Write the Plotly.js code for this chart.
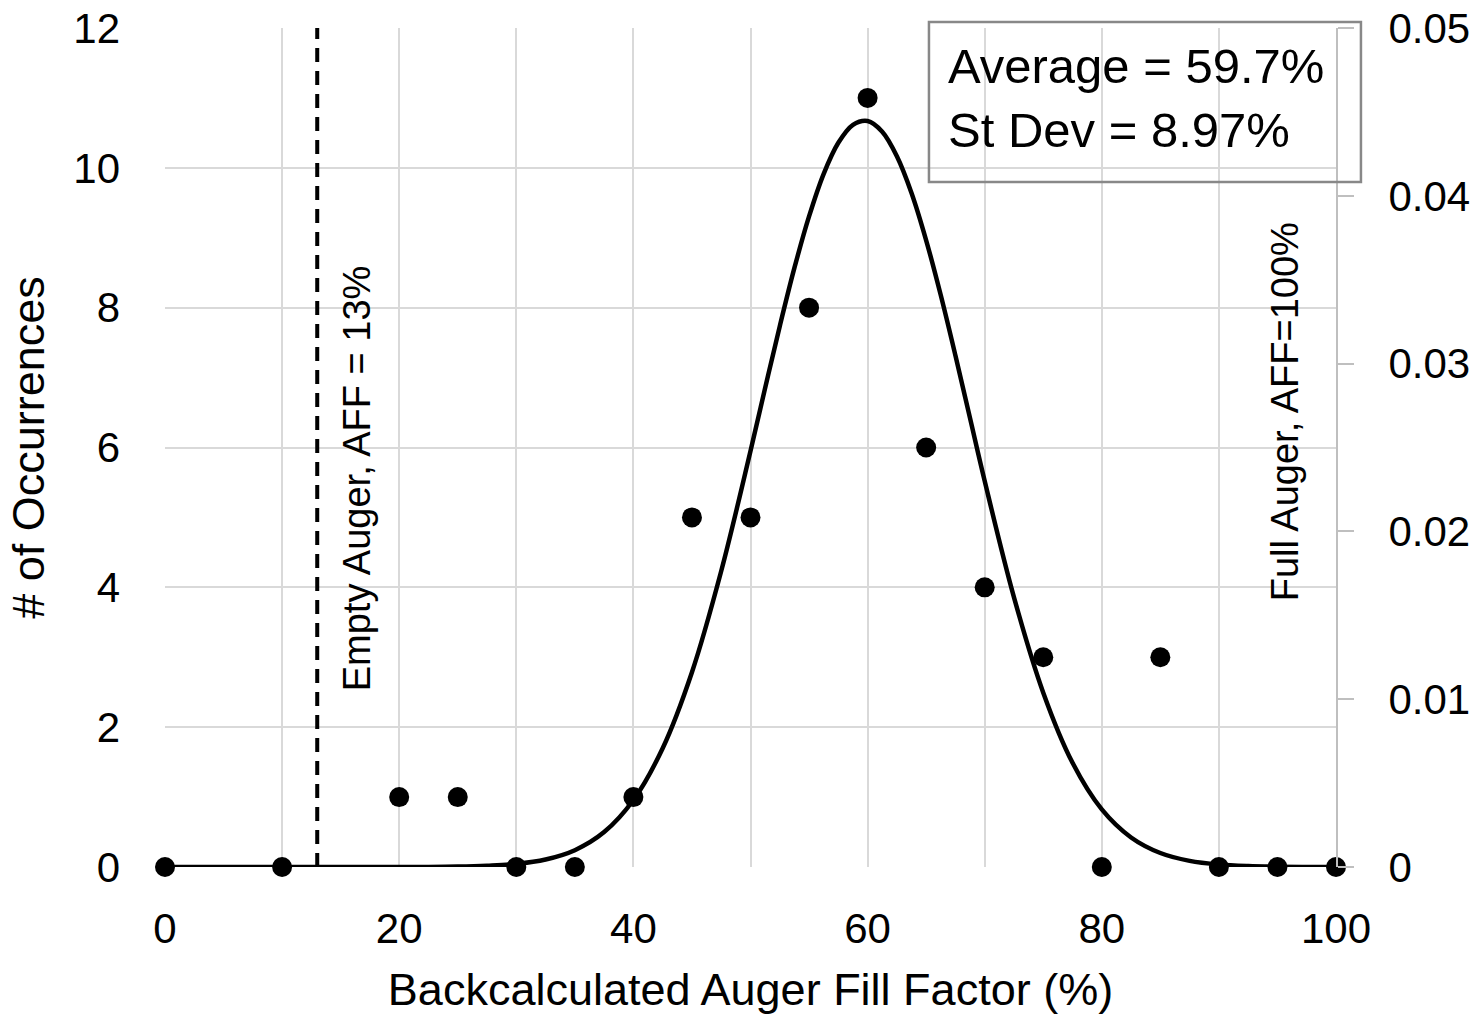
<!DOCTYPE html>
<html>
<head>
<meta charset="utf-8">
<script src="https://cdn.plot.ly/plotly-3.0.1.min.js"></script>
<style>
html,body{margin:0;padding:0;background:#fff;}
#chart{width:1478px;height:1021px;}
</style>
</head>
<body>
<div id="chart"></div>
<script>
// Observed occurrences
const fillFactor = [0, 10, 20, 25, 30, 35, 40, 45, 50, 55, 60, 65, 70, 75, 80, 85, 90, 95, 100];
const occurrences = [0, 0, 1, 1, 0, 0, 1, 5, 5, 8, 11, 6, 4, 3, 0, 3, 0, 0, 0];

// Normal distribution curve (right axis)
const curveX = [0, 5, 10, 15, 20, 22.5, 25, 27.5, 30, 32.5, 35, 37.5, 40, 42.5, 45, 47.5, 50, 51.25, 52.5, 53.75, 55, 56.25, 57.5, 58.75, 60, 61.25, 62.5, 63.75, 65, 66.25, 67.5, 68.75, 70, 72.5, 75, 77.5, 80, 82.5, 85, 87.5, 90, 92.5, 95, 97.5, 100];
const curveY = [0, 0, 0, 0, 0.0000005, 0.000004, 0.000025, 0.00008, 0.000186, 0.000448, 0.001003, 0.00208, 0.00399, 0.00708, 0.01161, 0.01764, 0.02479, 0.02854, 0.03223, 0.03570, 0.03877, 0.04131, 0.04316, 0.04423, 0.04446, 0.04382, 0.04236, 0.04017, 0.03735, 0.03407, 0.03048, 0.02674, 0.02300, 0.01607, 0.01039, 0.00621, 0.00343, 0.00176, 0.000833, 0.000366, 0.000148, 0.000055, 0.0000193, 0.000006, 0.0000017];

// Empty auger reference line
const emptyAugerX = [13, 13];
const emptyAugerY = [0, 12];

// Tick labels
const xTickVals = [0, 10, 20, 30, 40, 50, 60, 70, 80, 90, 100];
const xTickText = ['0', '', '20', '', '40', '', '60', '', '80', '', '100'];
const y2TickVals = [0, 0.01, 0.02, 0.03, 0.04, 0.05];
const y2TickText = ['0', '0.01', '0.02', '0.03', '0.04', '0.05'];

const statsText = 'Average = 59.7%<br>St Dev = 8.97%';

const FONT = '"Liberation Sans", Arial, sans-serif';
const GRID = '#d9d9d9';

const traces = [
  {
    x: emptyAugerX, y: emptyAugerY, mode: 'lines', type: 'scatter',
    line: {color: '#000', width: 4, dash: '14px,9px'},
    hoverinfo: 'skip', showlegend: false
  },
  {
    x: curveX, y: curveY, mode: 'lines', type: 'scatter', yaxis: 'y2',
    line: {color: '#000', width: 4.5, shape: 'spline', smoothing: 1},
    showlegend: false, cliponaxis: false
  },
  {
    x: fillFactor, y: occurrences, mode: 'markers', type: 'scatter',
    marker: {color: '#000', size: 20},
    showlegend: false, cliponaxis: false
  }
];

const layout = {
  width: 1478, height: 1021,
  margin: {l: 165, r: 142, t: 28, b: 154, pad: 0},
  paper_bgcolor: '#fff', plot_bgcolor: '#fff',
  font: {family: FONT, color: '#000', size: 42},
  showlegend: false,
  xaxis: {
    range: [0, 100], tickvals: xTickVals, ticktext: xTickText,
    showgrid: true, gridcolor: GRID, gridwidth: 2,
    zeroline: false, showline: false, ticks: '',
    ticklabelstandoff: 33,
    tickfont: {size: 42, family: FONT},
    title: {text: 'Backcalculated Auger Fill Factor (%)', font: {size: 45, family: FONT}, standoff: 22},
    automargin: false, fixedrange: true
  },
  yaxis: {
    range: [0, 12], dtick: 2, tick0: 0,
    showgrid: true, gridcolor: GRID, gridwidth: 2,
    zeroline: false, showline: false, ticks: '',
    ticklabelstandoff: 44,
    tickfont: {size: 42, family: FONT},
    title: {text: '# of Occurrences', font: {size: 45, family: FONT}, standoff: 14},
    automargin: false, fixedrange: true
  },
  yaxis2: {
    range: [0, 0.05], overlaying: 'y', side: 'right',
    tickvals: y2TickVals, ticktext: y2TickText,
    showgrid: false, zeroline: false,
    showline: true, linecolor: '#bfbfbf', linewidth: 2,
    ticks: 'outside', ticklen: 16, tickcolor: '#bfbfbf', tickwidth: 2,
    ticklabelstandoff: 26,
    tickfont: {size: 42, family: FONT},
    automargin: false, fixedrange: true
  },
  shapes: [
    {type: 'rect', xref: 'paper', yref: 'paper', x0: 0.6524, x1: 1.0213, y0: 0.8164, y1: 1.0072,
     line: {color: '#888888', width: 2.5}, fillcolor: 'rgba(0,0,0,0)', layer: 'above'}
  ],
  annotations: [
    {text: statsText, xref: 'paper', yref: 'paper', x: 0.6670, y: 0.916, xanchor: 'left', yanchor: 'middle',
     align: 'left', showarrow: false, font: {size: 49, family: FONT, color: '#000'}},
    {text: 'Empty Auger, AFF = 13%', xref: 'x', yref: 'y', x: 16.4, y: 5.56, textangle: -90,
     showarrow: false, font: {size: 38, family: FONT, color: '#000'}},
    {text: 'Full Auger, AFF=100%', xref: 'x', yref: 'y', x: 95.6, y: 6.51, textangle: -90,
     showarrow: false, font: {size: 38, family: FONT, color: '#000'}}
  ]
};

Plotly.newPlot('chart', traces, layout, {displayModeBar: false, staticPlot: true});
</script>
</body>
</html>
